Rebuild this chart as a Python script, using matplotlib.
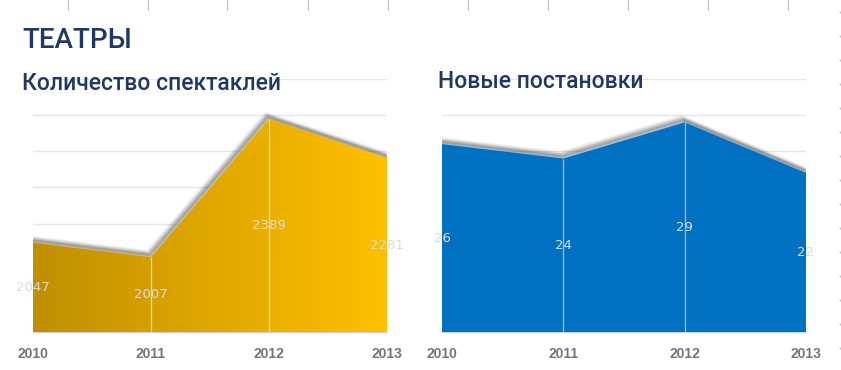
import numpy as np
import matplotlib.pyplot as plt
import matplotlib.transforms as mtransforms
from matplotlib.colors import LinearSegmentedColormap
from matplotlib.lines import Line2D

years = ['2010', '2011', '2012', '2013']
shows = [2047, 2007, 2389, 2281]
premieres = [26, 24, 29, 22]

title_main = 'ТЕАТРЫ'
title_left = 'Количество спектаклей'
title_right = 'Новые постановки'

navy = '#203864'
grid_c = '#e6e6e6'
label_c = '#dcdcdc'
tick_c = '#757575'

W, H = 841, 370
fig = plt.figure(figsize=(W / 100, H / 100), dpi=100)


def px(x0, y0, x1, y1):
    # pixel box (left, top, right, bottom) -> figure fraction rect
    return [x0 / W, 1 - y1 / H, (x1 - x0) / W, (y1 - y0) / H]


def area(ax, vals, ymin, ymax, step, fill):
    x = np.arange(len(vals))
    ax.set_xlim(0, len(vals) - 1)
    ax.set_ylim(ymin, ymax)
    ax.set_yticks(np.arange(ymin, ymax + step / 2, step))
    ax.yaxis.grid(True, color=grid_c, lw=1)
    ax.set_axisbelow(True)
    for s in ['top', 'right', 'left']:
        ax.spines[s].set_visible(False)
    ax.spines['bottom'].set_color('#d0d0d0')
    ax.tick_params(axis='y', left=False, labelleft=False)
    ax.tick_params(axis='x', length=0, pad=11)
    ax.set_xticks(x)
    ax.set_xticklabels(years, fontfamily='Liberation Sans', fontweight='bold',
                       fontsize=10, color=tick_c)

    # soft shadow along the top edge
    for k in range(1, 8):
        tr = mtransforms.offset_copy(ax.transData, fig=fig, x=-0.5 * k, y=0.8 * k, units='dots')
        ax.plot(x, vals, color='#505050', lw=3, alpha=0.22 - 0.027 * k,
                transform=tr, zorder=2, solid_joinstyle='round')

    poly = ax.fill_between(x, ymin, vals, color='none', lw=0, zorder=3)
    if isinstance(fill, str):
        poly.set_facecolor(fill)
    else:
        grad = np.linspace(0, 1, 256).reshape(1, -1)
        im = ax.imshow(grad, cmap=fill, aspect='auto', extent=[0, len(vals) - 1, ymin, ymax],
                       zorder=3, interpolation='bilinear')
        im.set_clip_path(poly.get_paths()[0], transform=ax.transData)

    ax.vlines(x[1:-1], ymin, np.array(vals)[1:-1], color='white', alpha=0.55, lw=1, zorder=4)

    for xi, v in zip(x, vals):
        ax.text(xi, (ymin + v) / 2, str(v), ha='center', va='center', fontsize=9.5,
                fontfamily='DejaVu Sans', color=label_c, zorder=5, clip_on=False)


gold = LinearSegmentedColormap.from_list('gold', ['#bf8f00', '#ffc000'])

ax1 = fig.add_axes(px(33, 79, 387, 332))
area(ax1, shows, 1800, 2500, 100, gold)

ax2 = fig.add_axes(px(442, 79, 806, 332))
area(ax2, premieres, 0, 35, 5, '#0070c0')

fig.text(22 / W, 1 - 48 / H, title_main, fontsize=20, color=navy, fontfamily='Roboto',
         fontweight='medium', va='baseline')
fig.text(22 / W, 1 - 90 / H, title_left, fontsize=16.5, color=navy, fontfamily='Roboto',
         fontweight='medium', va='baseline')
fig.text(438 / W, 1 - 88 / H, title_right, fontsize=16.5, color=navy, fontfamily='Roboto',
         fontweight='medium', va='baseline')

# spreadsheet column marks at the top and dotted edge on the right
for k in range(10):
    xx = (67.5 + 80 * k) / W
    fig.add_artist(Line2D([xx, xx], [1, 1 - 10 / H], color='#c0c0c0', lw=0.8))
dots_y = [1 - (12 + 24 * k) / H for k in range(15)]
fig.add_artist(Line2D([839.5 / W] * len(dots_y), dots_y, ls='none', marker='s',
                      ms=0.5, color='#c8c8c8'))

fig.savefig('out.png', dpi=100)
